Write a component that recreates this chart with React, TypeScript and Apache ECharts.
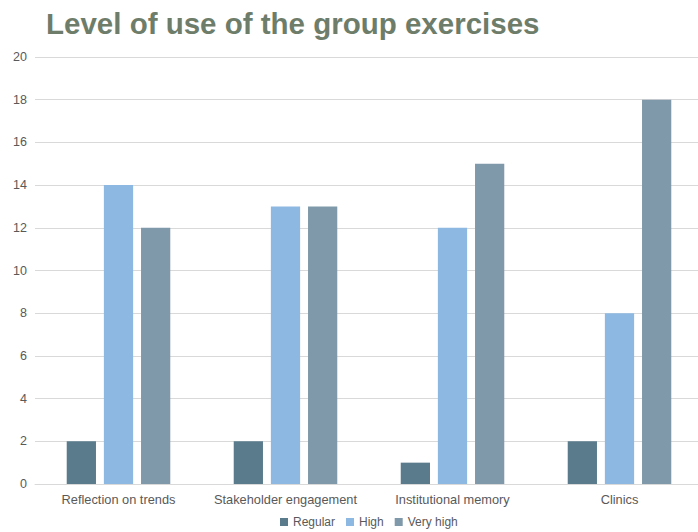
import React, { useEffect, useRef } from "react";
import * as echarts from "echarts";

const categories = [
  "Reflection on trends",
  "Stakeholder engagement",
  "Institutional memory",
  "Clinics",
];
const regular = [2, 2, 1, 2];
const high = [14, 13, 12, 8];
const veryHigh = [12, 13, 15, 18];
const seriesNames = ["Regular", "High", "Very high"];
const colors = ["#5a7b8c", "#8db8e2", "#7f99aa"];

export default function App() {
  const ref = useRef<HTMLDivElement>(null);
  useEffect(() => {
    if (!ref.current) return;
    const chart = echarts.init(ref.current, undefined, { renderer: "svg" });
    const font = "Liberation Sans, Arial, sans-serif";
    const values = [regular, high, veryHigh];
    chart.setOption({
      animation: false,
      title: {
        text: "Level of use of the group exercises",
        left: 41,
        top: 3,
        textStyle: {
          fontFamily: font,
          fontSize: 29.5,
          fontWeight: "bold",
          color: "#6e7d6a",
        },
      },
      legend: {
        top: 511,
        left: 275,
        itemWidth: 8,
        itemHeight: 8,
        itemGap: 11,
        icon: "rect",
        textStyle: { fontFamily: font, fontSize: 12, color: "#595959" },
        data: seriesNames,
      },
      // plot area runs slightly past the visible right edge
      grid: { left: 35, right: 7, top: 57, bottom: 48, containLabel: false },
      xAxis: {
        type: "category",
        data: categories,
        axisLine: { lineStyle: { color: "#d9d9d9" } },
        axisTick: { show: false },
        axisLabel: {
          fontFamily: font,
          fontSize: 12.8,
          color: "#595959",
          margin: 9,
          interval: 0,
        },
      },
      yAxis: {
        type: "value",
        min: 0,
        max: 20,
        interval: 2,
        axisLine: { show: false },
        axisTick: { show: false },
        splitLine: { lineStyle: { color: "#d9d9d9" } },
        axisLabel: {
          fontFamily: font,
          fontSize: 12.5,
          color: "#595959",
          margin: 8,
        },
      },
      series: seriesNames.map((name, i) => ({
        name,
        type: "bar",
        data: values[i],
        barGap: "27%",
        barCategoryGap: "38%",
        itemStyle: { color: colors[i] },
      })),
    });
    return () => chart.dispose();
  }, []);
  return (
    <div
      style={{
        position: "fixed",
        left: 0,
        top: 0,
        width: 698,
        height: 532,
        overflow: "hidden",
        background: "#fff",
      }}
    >
      <div ref={ref} style={{ width: 710, height: 532 }} />
    </div>
  );
}
